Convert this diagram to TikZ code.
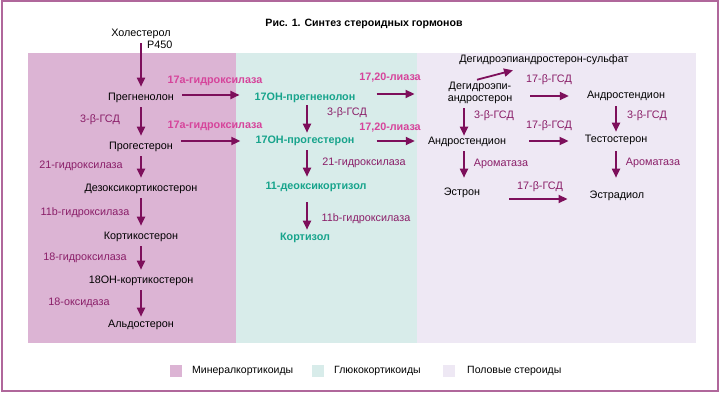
\documentclass[tikz,border=0pt]{standalone}
\usepackage{fontspec}
\setmainfont{Liberation Sans}
\usepackage{xcolor}
\usepackage{tikz}
\usetikzlibrary{arrows.meta}
\definecolor{rahmen}{HTML}{B0679B}
\definecolor{mineral}{HTML}{DCB4D4}
\definecolor{gluko}{HTML}{D8ECEA}
\definecolor{sexual}{HTML}{EEE8F4}
\definecolor{pfeilfarbe}{HTML}{7D0F5B}
\definecolor{enzymdunkel}{HTML}{8A1E68}
\definecolor{enzymhell}{HTML}{D6449B}
\definecolor{gruen}{HTML}{17A48C}
\tikzset{
  Pfeil/.style={line width=1.8pt, draw=pfeilfarbe, ->, shorten <=3pt, shorten >=5pt}, % für Pfeile
  Hormon/.style={inner sep=1pt, text height=8pt, text depth=2.2pt, font=\fontsize{10.8}{12.5}\selectfont},
  GHormon/.style={Hormon, text=gruen, font=\fontsize{10.8}{12.5}\selectfont\bfseries}, % Glukokortikoide
  Enzym/.style={Hormon, text=enzymdunkel},
  HEnzym/.style={Hormon, text=enzymhell, font=\fontsize{10.8}{12.5}\selectfont\bfseries},
  Feld/.style={minimum size=12pt, inner sep=0pt}
}

\begin{document}
\begin{tikzpicture}[x=1pt, y=-1pt,
>={Triangle[length=9pt,width=8pt]} % Voreinstellung für Pfeilspitzen
]
\useasboundingbox (0,0) rectangle (720,393);

%Hintergrund
\fill[mineral] (28,53) rectangle (236,343);
\fill[gluko] (236,53) rectangle (417,343);
\fill[sexual] (417,53) rectangle (696,343);
\draw[rahmen, line width=2pt] (1.5,1.2) rectangle (718,391);

\node[Hormon, font=\fontsize{10.6}{12}\selectfont\bfseries] (titel) at (364,24) {Рис. 1. Синтез стероидных гормонов};

%Mineralkortikoide
\node[Hormon] (chol) at (141,34) {Холестерол};
\node[Hormon, anchor=west] (p450) at (146,46) {P450};
\node[Hormon] (preg) at (141,98) {Прегненолон};
\node[Hormon] (prog) at (141,147) {Прогестерон};
\node[Hormon] (deoxy) at (141,189) {Дезоксикортикостерон};
\node[Hormon] (kortiko) at (141,237) {Кортикостерон};
\node[Hormon] (ohkortiko) at (141,281) {18ОН-кортикостерон};
\node[Hormon] (aldo) at (141,325) {Альдостерон};

%Glukokortikoide
\node[GHormon] (ohpreg) at (305,98) {17ОН-прегненолон};
\node[GHormon] (ohprog) at (305,141) {17ОН-прогестерон};
\node[GHormon] (deoxyk) at (316,187) {11-деоксикортизол};
\node[GHormon] (kortisol) at (305,238) {Кортизол};

%Sexualsteroide
\node[Hormon] (dheas) at (544,60) {Дегидроэпиандростерон-сульфат};
\node[Hormon, align=center, text height=, text depth=] (dhea) at (480,93) {Дегидроэпи-\\андростерон};
\node[Hormon] (androo) at (626,96) {Андростендион};
\node[Hormon] (andro) at (467,142) {Андростендион};
\node[Hormon] (testo) at (616,140) {Тестостерон};
\node[Hormon] (estron) at (462,193) {Эстрон};
\node[Hormon] (estradiol) at (617,196) {Эстрадиол};

%Enzyme
\node[Enzym] (e1) at (100,120) {3-β-ГСД};
\node[Enzym] (e2) at (81,166) {21-гидроксилаза};
\node[Enzym] (e3) at (85,213) {11b-гидроксилаза};
\node[Enzym] (e4) at (85,258) {18-гидроксилаза};
\node[Enzym] (e5) at (79,303) {18-оксидаза};
\node[HEnzym] (e6) at (215,81) {17а-гидроксилаза};
\node[HEnzym] (e7) at (215,126) {17а-гидроксилаза};
\node[Enzym] (e8) at (347,113) {3-β-ГСД};
\node[HEnzym] (e9) at (390,78) {17,20-лиаза};
\node[HEnzym] (e10) at (390,128) {17,20-лиаза};
\node[Enzym] (e11) at (364,163) {21-гидроксилаза};
\node[Enzym] (e12) at (366,219) {11b-гидроксилаза};
\node[Enzym] (e13) at (549,80) {17-β-ГСД};
\node[Enzym] (e14) at (494,116) {3-β-ГСД};
\node[Enzym] (e15) at (647,116) {3-β-ГСД};
\node[Enzym] (e16) at (549,126) {17-β-ГСД};
\node[Enzym] (e17) at (501,164) {Ароматаза};
\node[Enzym] (e18) at (653,163) {Ароматаза};
\node[Enzym] (e19) at (540,187) {17-β-ГСД};

%Pfeile senkrecht
\draw[Pfeil] (chol.south) -- (preg.north);
\draw[Pfeil] (preg) -- (prog);
\draw[Pfeil] (prog) -- (deoxy);
\draw[Pfeil] (deoxy) -- (kortiko);
\draw[Pfeil] (kortiko) -- (ohkortiko);
\draw[Pfeil, shorten >=2pt] (ohkortiko) -- (aldo);
\draw[Pfeil, shorten <=1pt, shorten >=2pt] ([xshift=2pt]ohpreg.south) -- ([xshift=2pt]ohprog.north);
\draw[Pfeil, shorten >=4pt] ([xshift=2pt]ohprog.south) -- ([xshift=2pt]ohprog.south |- deoxyk.north);
\draw[Pfeil, shorten <=9pt, shorten >=2pt] ([xshift=2pt]kortisol.north |- deoxyk.south) -- ([xshift=2pt]kortisol.north);
\draw[Pfeil, shorten >=0pt] ([xshift=-3pt]dhea.south -| andro) -- ([xshift=-3pt]andro.north);
\draw[Pfeil, shorten <=4pt, shorten >=2pt] (androo.south -| testo) -- (testo.north);
\draw[Pfeil, shorten >=9pt] ([xshift=-3pt]andro.south) -- ([xshift=-3pt]andro.south |- estron.north);
\draw[Pfeil, shorten <=5pt, shorten >=12pt] (testo.south) -- (testo.south |- estradiol.north);

%Pfeile waagerecht
\draw[Pfeil, shorten <=7pt, shorten >=14pt] ([yshift=3pt]preg.east) -- ([yshift=3pt]ohpreg.west);
\draw[Pfeil, shorten <=7pt, shorten >=14pt] ([yshift=6pt]prog.east) -- (ohprog.west);
\draw[Pfeil, shorten <=20pt, shorten >=32pt] ([yshift=4pt]ohpreg.east) -- ([yshift=-1pt]dhea.west);
\draw[Pfeil, shorten <=21pt, shorten >=12pt] (ohprog.east) -- ([yshift=1pt]andro.west);
\draw[Pfeil, shorten <=17pt, shorten >=17pt] ([yshift=-3pt]dhea.east) -- (androo.west);
\draw[Pfeil, shorten <=22pt, shorten >=15pt] ([yshift=1pt]andro.east) -- ([yshift=-1pt]testo.west);
\draw[Pfeil, shorten <=28pt, shorten >=21pt] ([yshift=-6pt]estron.east) -- ([yshift=-3pt]estradiol.west);
\draw[Pfeil, shorten <=0pt, shorten >=0pt] ([xshift=-3pt, yshift=1pt]dhea.north) -- ([xshift=-31pt, yshift=-4pt]dheas.south);

%Legende
\node[Feld, fill=mineral] (f1) at (175.5,371) {};
\node[Hormon, anchor=west, font=\fontsize{10.5}{12}\selectfont] (l1) at (191,371) {Минералкортикоиды};
\node[Feld, fill=gluko] (f2) at (318,371) {};
\node[Hormon, anchor=west, font=\fontsize{10.5}{12}\selectfont] (l2) at (333,371) {Глюкокортикоиды};
\node[Feld, fill=sexual] (f3) at (449,371) {};
\node[Hormon, anchor=west, font=\fontsize{10.5}{12}\selectfont] (l3) at (466,371) {Половые стероиды};

\end{tikzpicture}
\end{document}
